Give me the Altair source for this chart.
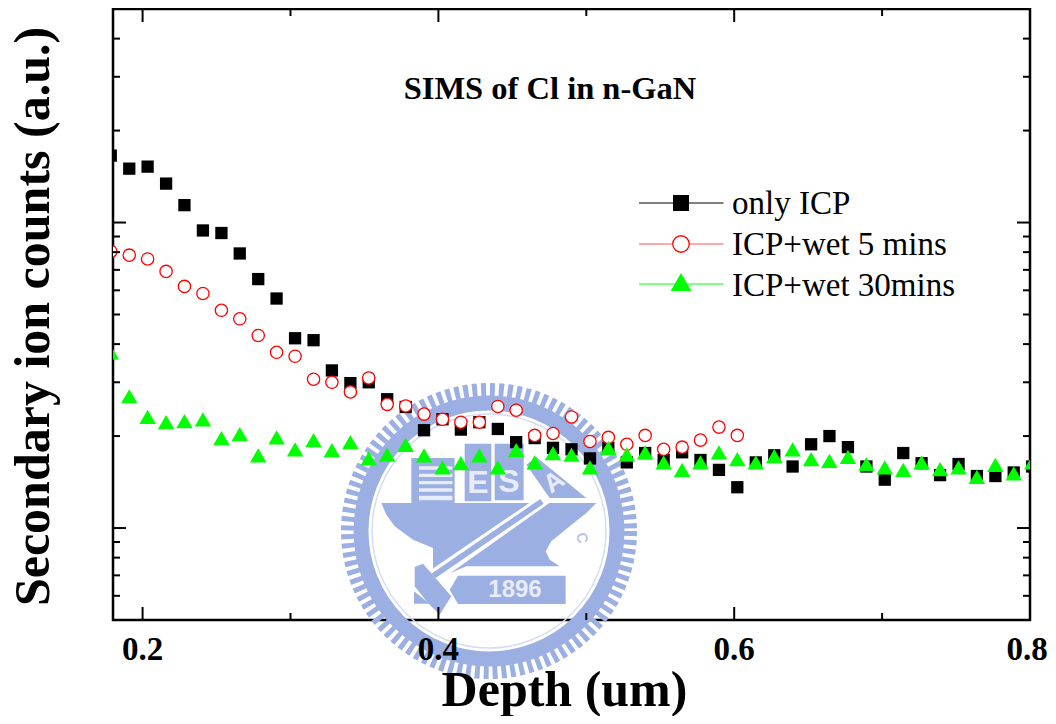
import altair as alt
import pandas as pd

depth = [0.1785, 0.191, 0.2034, 0.2159, 0.2283, 0.2408, 0.2533, 0.2657, 0.2782, 0.2906,
         0.3031, 0.3156, 0.328, 0.3405, 0.3529, 0.3654, 0.3779, 0.3903, 0.4028, 0.4152,
         0.4277, 0.4402, 0.4526, 0.4651, 0.4775, 0.49, 0.5025, 0.5149, 0.5274, 0.5398,
         0.5523, 0.5648, 0.5772, 0.5897, 0.6021, 0.6146, 0.6271, 0.6395, 0.652, 0.6644,
         0.6769, 0.6894, 0.7018, 0.7143, 0.7267, 0.7392, 0.7517, 0.7641, 0.7766, 0.789, 0.8015]
only_icp = [165.6, 150.1, 152.4, 134.1, 114.0, 94.2, 92.4, 79.2, 65.3, 56.4,
            41.8, 41.2, 32.8, 29.8, 30.0, 26.4, 24.9, 20.9, 22.7, 21.0,
            22.2, 21.1, 19.1, 19.7, 18.3, 18.1, 16.9, 18.3, 16.4, 17.6,
            16.7, 17.7, 16.7, 15.5, 13.6, 16.4, 17.3, 15.9, 18.8, 20.0,
            18.4, 15.9, 14.4, 17.6, 16.3, 14.9, 16.2, 14.8, 14.8, 15.2, 15.9]
wet_5 = [80.4, 78.2, 76.0, 69.2, 61.8, 58.6, 51.6, 48.4, 42.7, 37.6,
         36.5, 30.7, 30.0, 27.9, 31.0, 25.4, 25.1, 23.6, 22.7, 22.2,
         22.2, 25.0, 24.3, 20.1, 20.4, 23.1, 19.2, 19.8, 18.8, 20.1,
         18.1, 18.4, 19.4, 21.4, 20.1]
wet_30 = [37.6, 27.0, 23.1, 22.2, 22.4, 22.7, 19.7, 20.3, 17.3, 19.8,
          18.1, 19.4, 18.0, 19.1, 16.9, 17.4, 18.7, 17.3, 15.8, 16.3,
          17.3, 15.8, 18.0, 16.4, 17.6, 17.4, 15.8, 18.3, 17.4, 17.7,
          16.4, 15.5, 16.4, 17.7, 16.8, 16.4, 17.2, 18.1, 16.8, 16.6,
          17.1, 16.2, 15.8, 15.5, 16.4, 15.6, 15.8, 14.7, 16.1, 15.1, 16.4]
legend_labels = ["only ICP", "ICP+wet 5 mins", "ICP+wet 30mins"]
x_major = [0.2, 0.4, 0.6, 0.8]
x_major_labels = ["0.2", "0.4", "0.6", "0.8"]
x_minor = [0.3, 0.5, 0.7]
y_major = [10, 100]
y_minor = [5, 6, 7, 8, 9, 20, 30, 40, 50, 60, 70, 80, 90, 200, 300, 400, 500]

W, H = 917, 611
SERIF = "Liberation Serif"
BLUE = "#9cafe2"
PALE = "#e8ecf9"

xs = alt.Scale(domain=[0.18, 0.8], nice=False, zero=False)
ys = alt.Scale(type="log", base=10, domain=[5, 500], nice=False)


def series(vals):
    return pd.DataFrame({"depth": depth[:len(vals)], "counts": vals})


def poly(points):
    # logo outline, from a 3x crop of the emblem, in the -1..1 box of a custom symbol
    body = " L".join(f"{(a - 478) / 450:.4f},{(b - 445) / 450:.4f}" for a, b in points)
    return "M" + body + " Z"


def logo_shape(points, color=BLUE):
    return alt.Chart(pd.DataFrame({"a": [0]})).mark_point(
        shape=poly(points), filled=True, fill=color, stroke=None, opacity=1, size=90000
    ).encode(x=alt.value(376), y=alt.value(509))


def logo_ring(radius, width, color, dash=None):
    kw = {"strokeDash": dash} if dash else {}
    return alt.Chart(pd.DataFrame({"a": [0]})).mark_point(
        shape="circle", filled=False, stroke=color, strokeWidth=width, opacity=1,
        size=(2 * radius) ** 2, **kw
    ).encode(x=alt.value(376), y=alt.value(522))


def logo_text(text, x, y, size, color=PALE, angle=0):
    return alt.Chart(pd.DataFrame({"t": [text]})).mark_text(
        font="Liberation Sans", fontWeight="bold", fontSize=size, color=color, angle=angle,
        align="center", baseline="middle"
    ).encode(x=alt.value(x), y=alt.value(y), text="t:N")


logo = [
    logo_ring(141.5, 13, BLUE, [5, 3.9]),
    logo_ring(128, 15, BLUE),
    logo_ring(117, 1.5, "#d5dcf3"),
    # anvil
    logo_shape([(155, 400), (800, 400), (770, 430), (720, 470), (665, 515), (648, 545), (660, 570),
                (690, 590), (410, 590), (340, 620), (310, 600), (310, 535), (250, 510), (195, 470), (170, 435)]),
    # stripe and handle
    logo_shape([(290, 610), (640, 372), (662, 398), (320, 640)], "#ffffff"),
    logo_shape([(305, 612), (632, 388), (642, 402), (318, 625)]),
    # hammer head
    logo_shape([(255, 592), (280, 582), (365, 680), (330, 735), (295, 700), (255, 650)]),
    logo_shape([(253, 665), (300, 702), (253, 702)]),
    # plate
    logo_shape([(385, 618), (708, 618), (708, 703), (385, 703), (360, 660)]),
    # book and columns
    logo_shape([(245, 265), (375, 265), (375, 400), (245, 400)]),
    logo_shape([(268, 290), (368, 290), (368, 300), (268, 300)], PALE),
    logo_shape([(268, 312), (368, 312), (368, 322), (268, 322)], PALE),
    logo_shape([(268, 334), (368, 334), (368, 344), (268, 344)], PALE),
    logo_shape([(268, 356), (368, 356), (368, 366), (268, 366)], PALE),
    logo_shape([(268, 378), (368, 378), (368, 392), (268, 392)], PALE),
    logo_shape([(405, 222), (485, 222), (485, 395), (405, 395)]),
    logo_shape([(495, 222), (582, 222), (582, 392), (495, 392)]),
    logo_shape([(590, 285), (620, 262), (770, 385), (660, 385)]),
    logo_text("E", 365, 474, 32),
    logo_text("S", 396, 473, 32),
    logo_text("A", 441, 473, 26, angle=325),
    logo_text("1896", 402, 581, 24),
    logo_text("C", 469, 529, 15, "#b9c6ec", angle=80),
]

x_axis = alt.Axis(values=x_major, ticks=False, domain=False, grid=False, labels=False, zindex=1,
                  title="Depth (um)", titleFont=SERIF, titleFontWeight="bold", titleFontSize=50,
                  titleColor="black", titleX=451, titleY=85, titleAlign="center",
                  titleBaseline="alphabetic")
y_axis = alt.Axis(values=y_major, ticks=False, domain=False, grid=False, labels=False, zindex=1,
                  title="Secondary ion counts (a.u.)", titleFont=SERIF, titleFontWeight="bold",
                  titleFontSize=50, titleColor="black", titleAngle=270, titleX=-65, titleY=307,
                  titleAlign="center", titleBaseline="alphabetic")

X = alt.X("depth:Q", scale=xs, axis=x_axis)
Y = alt.Y("counts:Q", scale=ys, axis=y_axis)

squares = alt.Chart(series(only_icp)).mark_point(
    shape="square", filled=True, fill="black", stroke=None, size=151, opacity=1, clip=True
).encode(x=X, y=Y)
circles = alt.Chart(series(wet_5)).mark_point(
    shape="circle", filled=True, fill="white", stroke="#ff0000", strokeWidth=1.3, size=151, opacity=1, clip=True
).encode(x=X, y=Y)
triangles = alt.Chart(series(wet_30)).mark_point(
    shape="triangle-up", filled=True, fill="#00ff00", stroke=None, size=270, opacity=1, clip=True
).encode(x=X, y=Y)


def x_ticks(vals, y0, y1):
    return alt.Chart(pd.DataFrame({"depth": vals})).mark_rule(color="black", strokeWidth=2).encode(
        x=X, y=alt.value(y0), y2=alt.value(y1))


def y_ticks(vals, x0, x1):
    return alt.Chart(pd.DataFrame({"counts": vals})).mark_rule(color="black", strokeWidth=2).encode(
        y=Y, x=alt.value(x0), x2=alt.value(x1))


ticks = [
    x_ticks(x_major, H, H - 13), x_ticks(x_minor, H, H - 7),
    x_ticks(x_major, 0, 13), x_ticks(x_minor, 0, 7),
    y_ticks(y_major, 0, 13), y_ticks(y_minor, 0, 7),
    y_ticks(y_major, W, W - 13), y_ticks(y_minor, W, W - 7),
]


def x_labels(vals, texts, dx):
    return alt.Chart(pd.DataFrame({"depth": vals, "t": texts})).mark_text(
        font=SERIF, fontWeight="bold", fontSize=33, color="black", align="center",
        baseline="alphabetic", dx=dx
    ).encode(x=X, y=alt.value(651), text="t:N")


tick_labels = [x_labels(x_major[:3], x_major_labels[:3], 0), x_labels(x_major[3:], x_major_labels[3:], -3)]

title = alt.Chart(pd.DataFrame({"t": ["SIMS of Cl in n-GaN"]})).mark_text(
    font=SERIF, fontWeight="bold", fontSize=32.5, color="black", align="center", baseline="alphabetic"
).encode(x=alt.value(437), y=alt.value(90), text="t:N")


def legend_row(label, line_y, text_y, line_color, mark_kw, mark_y):
    one = pd.DataFrame({"t": [label]})
    line = alt.Chart(one).mark_rule(color=line_color, strokeWidth=1).encode(
        x=alt.value(526), x2=alt.value(610.5), y=alt.value(line_y))
    sym = alt.Chart(one).mark_point(opacity=1, **mark_kw).encode(x=alt.value(568), y=alt.value(mark_y))
    txt = alt.Chart(one).mark_text(font=SERIF, fontSize=33, color="black", align="left",
                                   baseline="alphabetic").encode(
        x=alt.value(619), y=alt.value(text_y), text="t:N")
    return [line, sym, txt]


legend = (
    legend_row(legend_labels[0], 194, 205, "black",
               dict(shape="square", filled=True, fill="black", stroke=None, size=256), 194)
    + legend_row(legend_labels[1], 235, 246, "#ff5050",
                 dict(shape="circle", filled=True, fill="white", stroke="#ff0000", strokeWidth=1.3, size=272), 235)
    + legend_row(legend_labels[2], 275, 287, "#00ff00",
                 dict(shape="triangle-up", filled=True, fill="#00ff00", stroke=None, size=428), 273)
)

chart = alt.layer(*logo, squares, circles, triangles, *ticks, *tick_labels, title, *legend).properties(
    width=W, height=H,
    autosize=alt.AutoSizeParams(type="none"),
    padding={"left": 105, "top": 1, "right": 18, "bottom": 96},
    background="white",
).configure_view(stroke="black", strokeWidth=2.5)

chart.save("out.html", embed_options={"renderer": "svg", "actions": False})
